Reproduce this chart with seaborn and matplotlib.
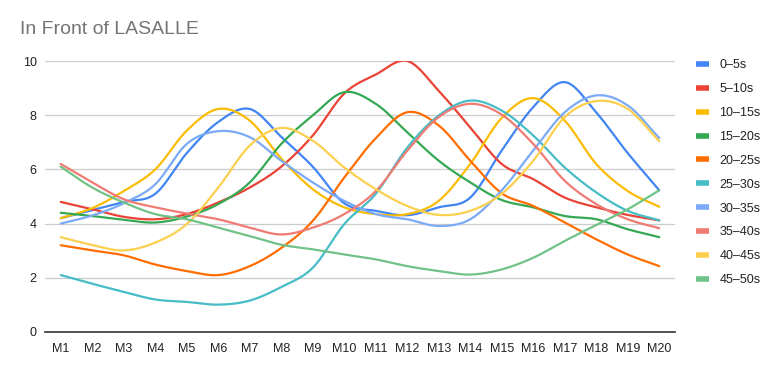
import numpy as np
import pandas as pd
import matplotlib
matplotlib.use("Agg")
import matplotlib.pyplot as plt
from matplotlib.lines import Line2D
import seaborn as sns

categories = [f"M{i}" for i in range(1, 21)]
series_names = ["0–5s", "5–10s", "10–15s", "15–20s", "20–25s",
                "25–30s", "30–35s", "35–40s", "40–45s", "45–50s"]

s_0_5 = [4.2, 4.5, 4.8, 5.1, 6.6, 7.75, 8.23, 7.2, 6.1, 4.75, 4.47, 4.31, 4.6, 4.96, 6.7, 8.3, 9.22, 8.1, 6.6, 5.23]
s_5_10 = [4.8, 4.53, 4.25, 4.16, 4.35, 4.78, 5.33, 6.1, 7.25, 8.8, 9.5, 10.0, 8.9, 7.55, 6.2, 5.64, 4.96, 4.6, 4.32, 4.12]
s_10_15 = [4.2, 4.57, 5.2, 6.0, 7.43, 8.23, 7.8, 6.4, 5.27, 4.6, 4.35, 4.35, 4.84, 6.2, 7.9, 8.63, 7.8, 6.2, 5.2, 4.62]
s_15_20 = [4.4, 4.28, 4.14, 4.04, 4.26, 4.72, 5.52, 6.94, 7.99, 8.85, 8.42, 7.37, 6.32, 5.52, 4.87, 4.6, 4.28, 4.16, 3.79, 3.5]
s_20_25 = [3.2, 3.01, 2.83, 2.49, 2.25, 2.1, 2.43, 3.1, 4.1, 5.7, 7.15, 8.11, 7.62, 6.32, 5.12, 4.65, 4.04, 3.42, 2.86, 2.43]
s_25_30 = [2.1, 1.78, 1.48, 1.2, 1.11, 1.01, 1.16, 1.66, 2.37, 3.98, 5.1, 6.8, 7.99, 8.54, 8.17, 7.25, 6.07, 5.15, 4.47, 4.12]
s_30_35 = [4.0, 4.3, 4.75, 5.45, 6.94, 7.41, 7.19, 6.32, 5.52, 4.84, 4.35, 4.16, 3.91, 4.16, 5.23, 6.7, 8.11, 8.73, 8.36, 7.16]
s_35_40 = [6.2, 5.52, 4.9, 4.6, 4.37, 4.16, 3.85, 3.6, 3.85, 4.35, 5.2, 6.69, 7.93, 8.42, 8.02, 6.94, 5.58, 4.72, 4.16, 3.83]
s_40_45 = [3.5, 3.21, 3.01, 3.3, 3.98, 5.33, 6.88, 7.53, 7.06, 6.07, 5.27, 4.65, 4.32, 4.47, 5.1, 6.32, 7.93, 8.52, 8.23, 7.04]
s_45_50 = [6.1, 5.33, 4.78, 4.35, 4.16, 3.85, 3.54, 3.22, 3.05, 2.86, 2.68, 2.43, 2.25, 2.12, 2.31, 2.74, 3.36, 3.95, 4.53, 5.23]

all_series = [s_0_5, s_5_10, s_10_15, s_15_20, s_20_25,
              s_25_30, s_30_35, s_35_40, s_40_45, s_45_50]
colors = ["#4285F4", "#EA4335", "#FBBC04", "#34A853", "#FF6D01",
          "#46BDC6", "#7BAAF7", "#F07B72", "#FCD04F", "#71C287"]
y_ticks = [0, 2, 4, 6, 8, 10]


def smooth(xs, ys, n=24):
    """Catmull-Rom style cubic Hermite curve through the data points (rendering only)."""
    xs = np.asarray(xs, float)
    ys = np.asarray(ys, float)
    m = np.zeros_like(ys)
    m[1:-1] = (ys[2:] - ys[:-2]) / 2.0
    m[0] = ys[1] - ys[0]
    m[-1] = ys[-1] - ys[-2]
    out_x, out_y = [], []
    for i in range(len(xs) - 1):
        t = np.linspace(0, 1, n, endpoint=(i == len(xs) - 2))
        h00 = 2 * t**3 - 3 * t**2 + 1
        h10 = t**3 - 2 * t**2 + t
        h01 = -2 * t**3 + 3 * t**2
        h11 = t**3 - t**2
        out_x.append(xs[i] + t * (xs[i + 1] - xs[i]))
        out_y.append(h00 * ys[i] + h10 * m[i] + h01 * ys[i + 1] + h11 * m[i + 1])
    return np.concatenate(out_x), np.concatenate(out_y)


idx = np.arange(len(categories))
frames = []
for name, vals in zip(series_names, all_series):
    sx, sy = smooth(idx, vals)
    frames.append(pd.DataFrame({"x": sx, "y": sy, "series": name}))
df = pd.concat(frames, ignore_index=True)

sns.set_style("white")
plt.rcParams["font.family"] = ["Liberation Sans", "DejaVu Sans"]

fig = plt.figure(figsize=(7.76, 3.71), dpi=100)
ax = fig.add_axes([45 / 776, 39 / 371, 630 / 776, 271 / 371])

sns.lineplot(data=df, x="x", y="y", hue="series", hue_order=series_names,
             palette=dict(zip(series_names, colors)), sort=False,
             estimator=None, linewidth=1.6, ax=ax, legend=False)

ax.set_xlim(-0.5, len(categories) - 0.5)
ax.set_ylim(0, 10)
ax.set_xticks(idx)
ax.set_xticklabels(categories)
ax.set_yticks(y_ticks)
ax.set_yticklabels([str(v) for v in y_ticks])
ax.set_xlabel("")
ax.set_ylabel("")
ax.grid(axis="y", color="#cccccc", linewidth=0.9)
ax.grid(axis="x", visible=False)
ax.set_axisbelow(True)
for sp in ["top", "right", "left"]:
    ax.spines[sp].set_visible(False)
ax.spines["bottom"].set_color("#333333")
ax.spines["bottom"].set_linewidth(1.2)
ax.spines["bottom"].set_zorder(5)
ax.tick_params(axis="both", length=0, labelsize=9, colors="#222222")
ax.tick_params(axis="x", pad=8)
ax.tick_params(axis="y", pad=6)

fig.text(20 / 776, 1 - 30 / 371, "In Front of LASALLE", fontsize=14,
         color="#757575", ha="left", va="center")

handles = [Line2D([0], [0], color=c, lw=4, solid_capstyle="butt") for c in colors]
fig.legend(handles, series_names, loc="upper left",
           bbox_to_anchor=(690 / 776, 1 - 53 / 371), frameon=False,
           fontsize=9, handlelength=1.05, handletextpad=0.8,
           labelspacing=0.95, borderpad=0, labelcolor="#222222")

fig.savefig("out.png", dpi=100)
